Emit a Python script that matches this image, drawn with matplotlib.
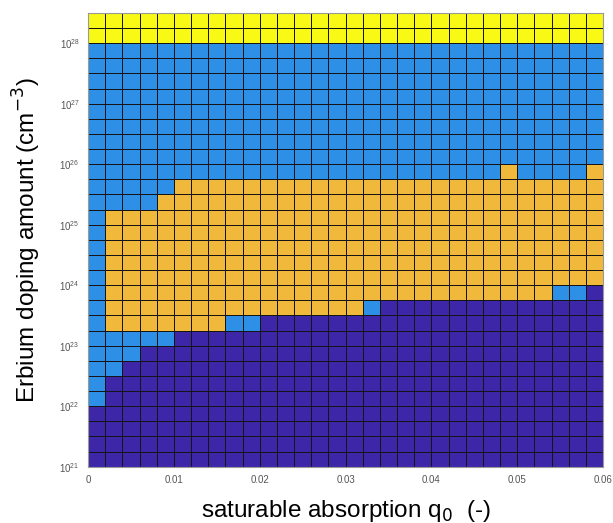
import matplotlib
matplotlib.use("Agg")
import matplotlib.pyplot as plt
import numpy as np
from matplotlib.colors import ListedColormap

plt.rcParams['font.family'] = ['Liberation Sans', 'DejaVu Sans']

# grid of q0 values (cell edges) and doping exponents (cell edges)
q0_edges = [0.002 * i for i in range(31)]
doping_exp_edges = [21 + 0.25 * k for k in range(31)]

# category per cell, top row first: 1 dark blue, 2 light blue, 3 orange, 4 yellow
cell_rows = [
    "444444444444444444444444444444",
    "444444444444444444444444444444",
    "222222222222222222222222222222",
    "222222222222222222222222222222",
    "222222222222222222222222222222",
    "222222222222222222222222222222",
    "222222222222222222222222222222",
    "222222222222222222222222222222",
    "222222222222222222222222222222",
    "222222222222222222222222222222",
    "222222222222222222222222322223",
    "222223333333333333333333333333",
    "222233333333333333333333333333",
    "233333333333333333333333333333",
    "233333333333333333333333333333",
    "233333333333333333333333333333",
    "233333333333333333333333333333",
    "233333333333333333333333333333",
    "233333333333333333333333333221",
    "233333333333333321111111111111",
    "233333332211111111111111111111",
    "222221111111111111111111111111",
    "222111111111111111111111111111",
    "221111111111111111111111111111",
    "211111111111111111111111111111",
    "211111111111111111111111111111",
    "111111111111111111111111111111",
    "111111111111111111111111111111",
    "111111111111111111111111111111",
    "111111111111111111111111111111",
]

category_colors = ['#3d26a8', '#2d8fe6', '#f1b93b', '#f8f915']
x_ticks = [0, 0.01, 0.02, 0.03, 0.04, 0.05, 0.06]
x_tick_labels = ['0', '0.01', '0.02', '0.03', '0.04', '0.05', '0.06']
y_ticks = [1e21, 1e22, 1e23, 1e24, 1e25, 1e26, 1e27, 1e28]

Z = np.array([[int(c) for c in row] for row in cell_rows[::-1]])
x = np.array(q0_edges)
y = 10.0 ** np.array(doping_exp_edges)

fig = plt.figure(figsize=(6.13, 5.23), dpi=100)
ax = fig.add_axes([0.1436, 0.1077, 0.8401, 0.8675])

cmap = ListedColormap(category_colors)
ax.pcolormesh(x, y, Z, cmap=cmap, vmin=0.5, vmax=4.5,
              edgecolors='#151515', linewidth=0.65)

ax.set_yscale('log')
ax.set_xlim(x[0], x[-1])
ax.set_ylim(y[0], y[-1])
ax.set_xticks(x_ticks)
ax.set_xticklabels(x_tick_labels)
ax.set_yticks(y_ticks)
ax.yaxis.set_minor_locator(matplotlib.ticker.NullLocator())
ax.tick_params(length=0, labelsize=7, colors='#555555', pad=6)

for s in ax.spines.values():
    s.set_color('#999999')
    s.set_linewidth(0.8)

ax.set_xlabel(r'saturable absorption q$_0$  (-)', fontsize=17.5, labelpad=9)
ax.set_ylabel(r'Erbium doping amount (cm$^{-3}$)', fontsize=17.5, labelpad=12)

fig.savefig('out.png', dpi=100)
